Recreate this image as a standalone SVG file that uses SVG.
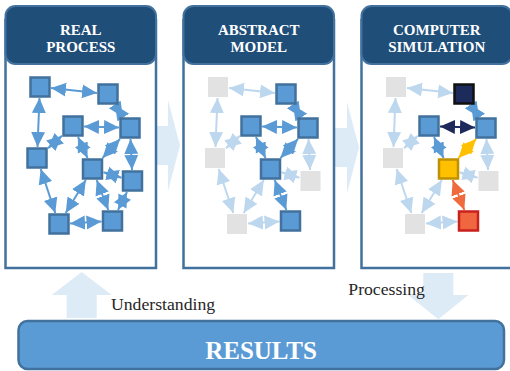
<svg xmlns="http://www.w3.org/2000/svg" width="510" height="371" viewBox="0 0 510 371">
<style>
.bg{fill:#DDEBF7}
.body{fill:#FFFFFF;stroke:#41719C;stroke-width:2.5}
.head{fill:#1F4E79;stroke:#41719C;stroke-width:2}
.ht{font-family:"Liberation Serif","Times New Roman",serif;font-weight:bold;font-size:15px;fill:#FFFFFF;text-anchor:middle}
.nb{fill:#5B9BD5;stroke:#41719C;stroke-width:2.5}
.ng{fill:#E2E2E2}
.nn{fill:#1C2A5C;stroke:#111111;stroke-width:2.5}
.ny{fill:#FFC000;stroke:#BF9000;stroke-width:2.5}
.nr{fill:#F0663E;stroke:#C9211E;stroke-width:2.5}
.eb{stroke:#5B9BD5;stroke-width:2;fill:none;marker-start:url(#mb);marker-end:url(#mb)}
.el{stroke:#BDD7EE;stroke-width:2;fill:none;marker-start:url(#ml);marker-end:url(#ml)}
.en{stroke:#1F2A5C;stroke-width:2;fill:none;marker-start:url(#mn);marker-end:url(#mn)}
.ey{stroke:#FFC000;stroke-width:2;fill:none;marker-start:url(#my);marker-end:url(#my)}
.er{stroke:#EF6A3C;stroke-width:2;fill:none;marker-start:url(#mr);marker-end:url(#mr)}
.lbl{font-family:"Liberation Serif","Times New Roman",serif;font-size:17.7px;fill:#262626}
</style>
<defs>
<marker id="mb" viewBox="0 0 16 16" refX="15" refY="7.5" markerWidth="16" markerHeight="16" markerUnits="userSpaceOnUse" orient="auto-start-reverse"><path d="M0,0.5L15,7.5L0,14.5z" fill="#5B9BD5"/></marker>
<marker id="ml" viewBox="0 0 16 16" refX="15" refY="7.5" markerWidth="16" markerHeight="16" markerUnits="userSpaceOnUse" orient="auto-start-reverse"><path d="M0,0.5L15,7.5L0,14.5z" fill="#BDD7EE"/></marker>
<marker id="mn" viewBox="0 0 16 16" refX="15" refY="7.5" markerWidth="16" markerHeight="16" markerUnits="userSpaceOnUse" orient="auto-start-reverse"><path d="M0,0.5L15,7.5L0,14.5z" fill="#1F2A5C"/></marker>
<marker id="my" viewBox="0 0 16 16" refX="15" refY="7.5" markerWidth="16" markerHeight="16" markerUnits="userSpaceOnUse" orient="auto-start-reverse"><path d="M0,0.5L15,7.5L0,14.5z" fill="#FFC000"/></marker>
<marker id="mr" viewBox="0 0 16 16" refX="15" refY="7.5" markerWidth="16" markerHeight="16" markerUnits="userSpaceOnUse" orient="auto-start-reverse"><path d="M0,0.5L15,7.5L0,14.5z" fill="#EF6A3C"/></marker>
</defs>

<!-- big light arrows -->
<g id="flow-arrows">
<polygon class="bg" points="150,126 168,126 168,100 180,145.5 168,191 168,165 150,165"/>
<polygon class="bg" points="328,128 347,128 347,102 359,147.5 347,193 347,167 328,167"/>
<polygon class="bg" points="66.7,318 66.7,295 51.7,295 81.7,272 111.7,295 96.7,295 96.7,318"/>
<polygon class="bg" points="423.3,273 453.3,273 453.3,295 468.3,295 438.3,319.3 408.3,295 423.3,295"/>
</g>

<!-- panels -->
<g id="panel-real">
<rect class="body" x="5.5" y="20" width="150.5" height="248"/>
<rect class="head" x="5.5" y="6" width="150.5" height="58" rx="10"/>
<text class="ht" x="80.75" y="34.8">REAL</text>
<text class="ht" x="80.75" y="52">PROCESS</text>
</g>
<g id="panel-abstract">
<rect class="body" x="183.5" y="20" width="150.5" height="248"/>
<rect class="head" x="183.5" y="6" width="150.5" height="58" rx="10"/>
<text class="ht" x="258.75" y="34.8">ABSTRACT</text>
<text class="ht" x="258.75" y="52">MODEL</text>
</g>
<g id="panel-simulation">
<rect class="body" x="361.5" y="20" width="150.5" height="248"/>
<rect class="head" x="361.5" y="6" width="150.5" height="58" rx="10"/>
<text class="ht" x="436.75" y="34.8">COMPUTER</text>
<text class="ht" x="436.75" y="52">SIMULATION</text>
</g>

<!-- connectors -->
<g id="connectors">
<g id="conn-real">
<line class="eb" x1="51" y1="88.1" x2="97" y2="92.9"/>
<line class="eb" x1="39.5" y1="98" x2="37.5" y2="147"/>
<line class="eb" x1="115.1" y1="105" x2="122.9" y2="117"/>
<line class="eb" x1="84" y1="126.4" x2="119" y2="127.6"/>
<line class="eb" x1="62" y1="135.8" x2="48" y2="148.2"/>
<line class="eb" x1="78" y1="137" x2="87.5" y2="158"/>
<line class="eb" x1="120" y1="139" x2="102.5" y2="158"/>
<line class="eb" x1="130.5" y1="139" x2="132" y2="170"/>
<line class="eb" x1="103.5" y1="172.3" x2="121.5" y2="177.7"/>
<line class="eb" x1="40.7" y1="169" x2="55.3" y2="213"/>
<line class="eb" x1="85.8" y1="180" x2="65.7" y2="213"/>
<line class="eb" x1="96.7" y1="180" x2="108.3" y2="210"/>
<line class="eb" x1="127" y1="192" x2="118" y2="210"/>
<line class="eb" x1="70" y1="223.4" x2="101.5" y2="221.6"/>
</g>
<g id="conn-abstract" transform="translate(178,0)">
<line class="el" x1="51" y1="88.1" x2="97" y2="92.9"/>
<line class="el" x1="39.5" y1="98" x2="37.5" y2="147"/>
<line class="eb" x1="115.1" y1="105" x2="122.9" y2="117"/>
<line class="eb" x1="84" y1="126.4" x2="119" y2="127.6"/>
<line class="el" x1="62" y1="135.8" x2="48" y2="148.2"/>
<line class="eb" x1="78" y1="137" x2="87.5" y2="158"/>
<line class="eb" x1="120" y1="139" x2="102.5" y2="158"/>
<line class="el" x1="130.5" y1="139" x2="132" y2="170"/>
<line class="el" x1="103.5" y1="172.3" x2="121.5" y2="177.7"/>
<line class="el" x1="40.7" y1="169" x2="55.3" y2="213"/>
<line class="el" x1="85.8" y1="180" x2="65.7" y2="213"/>
<line class="eb" x1="96.7" y1="180" x2="108.3" y2="210"/>
<line class="el" x1="70" y1="223.4" x2="101.5" y2="221.6"/>
</g>
<g id="conn-simulation" transform="translate(356,0)">
<line class="el" x1="51" y1="88.1" x2="97" y2="92.9"/>
<line class="el" x1="39.5" y1="98" x2="37.5" y2="147"/>
<line class="eb" x1="115.1" y1="105" x2="122.9" y2="117"/>
<line class="en" x1="84" y1="126.4" x2="119" y2="127.6"/>
<line class="el" x1="62" y1="135.8" x2="48" y2="148.2"/>
<line class="eb" x1="78" y1="137" x2="87.5" y2="158"/>
<line class="ey" x1="120" y1="139" x2="102.5" y2="158"/>
<line class="el" x1="130.5" y1="139" x2="132" y2="170"/>
<line class="el" x1="103.5" y1="172.3" x2="121.5" y2="177.7"/>
<line class="el" x1="40.7" y1="169" x2="55.3" y2="213"/>
<line class="el" x1="85.8" y1="180" x2="65.7" y2="213"/>
<line class="er" x1="96.7" y1="180" x2="108.3" y2="210"/>
<line class="el" x1="70" y1="223.4" x2="101.5" y2="221.6"/>
</g>
</g>

<!-- nodes: real process -->
<g id="nodes-real">
<g id="real-A"><rect class="nb" x="30.5" y="77.5" width="19" height="19"/></g>
<g id="real-B"><rect class="nb" x="98.5" y="84.5" width="19" height="19"/></g>
<g id="real-C"><rect class="nb" x="63.5" y="116.5" width="19" height="19"/></g>
<g id="real-D"><rect class="nb" x="120.5" y="118.5" width="19" height="19"/></g>
<g id="real-E"><rect class="nb" x="27.5" y="148.5" width="19" height="19"/></g>
<g id="real-F"><rect class="nb" x="83" y="159.5" width="19" height="19"/></g>
<g id="real-G"><rect class="nb" x="123" y="171.5" width="19" height="19"/></g>
<g id="real-H"><rect class="nb" x="49.5" y="214.5" width="19" height="19"/></g>
<g id="real-I"><rect class="nb" x="103" y="211.5" width="19" height="19"/></g>
</g>
<g id="nodes-abstract" transform="translate(178,0)">
<g id="abstract-A"><rect class="ng" x="30" y="77" width="20" height="20"/></g>
<g id="abstract-B"><rect class="nb" x="98.5" y="84.5" width="19" height="19"/></g>
<g id="abstract-C"><rect class="nb" x="63.5" y="116.5" width="19" height="19"/></g>
<g id="abstract-D"><rect class="nb" x="120.5" y="118.5" width="19" height="19"/></g>
<g id="abstract-E"><rect class="ng" x="27" y="148" width="20" height="20"/></g>
<g id="abstract-F"><rect class="nb" x="83" y="159.5" width="19" height="19"/></g>
<g id="abstract-G"><rect class="ng" x="122.5" y="171" width="20" height="20"/></g>
<g id="abstract-H"><rect class="ng" x="49" y="214" width="20" height="20"/></g>
<g id="abstract-I"><rect class="nb" x="103" y="211.5" width="19" height="19"/></g>
</g>
<g id="nodes-simulation" transform="translate(356,0)">
<g id="sim-A"><rect class="ng" x="30" y="77" width="20" height="20"/></g>
<g id="sim-B"><rect class="nn" x="98.5" y="84.5" width="19" height="19"/></g>
<g id="sim-C"><rect class="nb" x="63.5" y="116.5" width="19" height="19"/></g>
<g id="sim-D"><rect class="nb" x="120.5" y="118.5" width="19" height="19"/></g>
<g id="sim-E"><rect class="ng" x="27" y="148" width="20" height="20"/></g>
<g id="sim-F"><rect class="ny" x="83" y="159.5" width="19" height="19"/></g>
<g id="sim-G"><rect class="ng" x="122.5" y="171" width="20" height="20"/></g>
<g id="sim-H"><rect class="ng" x="49" y="214" width="20" height="20"/></g>
<g id="sim-I"><rect class="nr" x="103" y="211.5" width="19" height="19"/></g>
</g>

<!-- labels -->
<text class="lbl" x="111" y="309.5">Understanding</text>
<text class="lbl" x="348.3" y="295">Processing</text>

<!-- results -->
<g id="results">
<rect x="18.5" y="321" width="485.5" height="48" rx="9" fill="#5B9BD5" stroke="#41719C" stroke-width="2.5"/>
<text x="261" y="358.5" font-family="Liberation Serif, Times New Roman, serif" font-weight="bold" font-size="25" fill="#FFFFFF" text-anchor="middle">RESULTS</text>
</g>
</svg>
